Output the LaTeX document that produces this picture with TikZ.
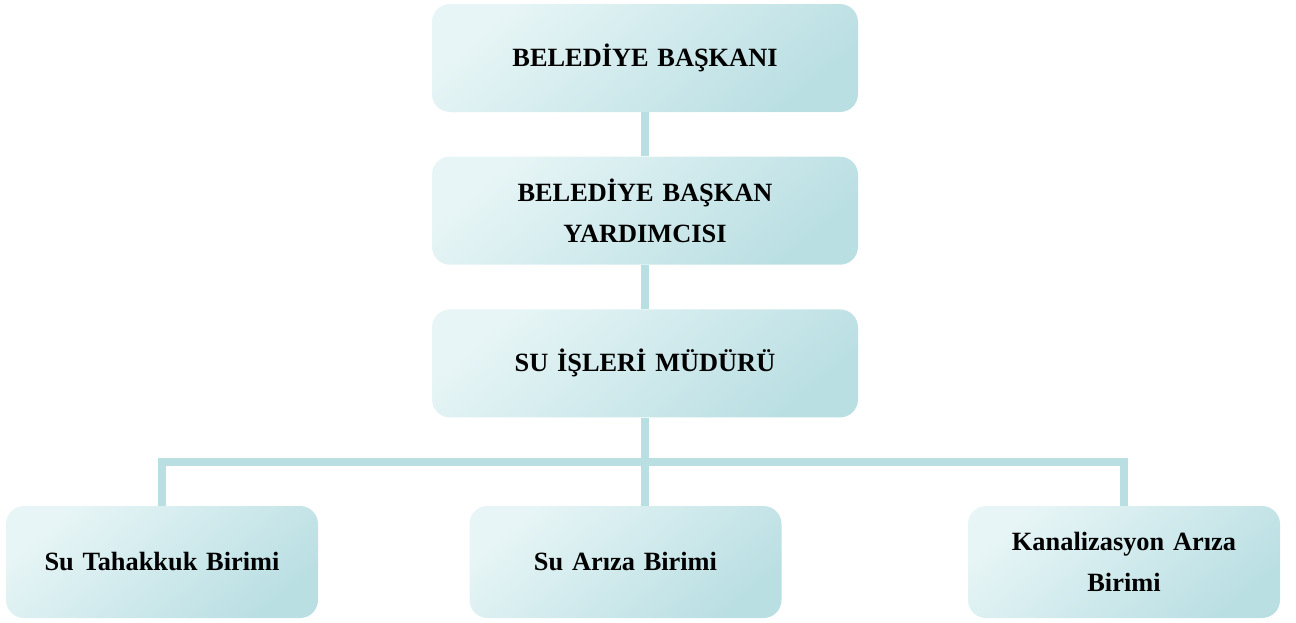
\documentclass[tikz,border=0pt]{standalone}
\usepackage{fontspec}
\setmainfont{Liberation Serif}
\usepackage{tikz}
\usepackage{xcolor}
\usetikzlibrary{shapes,arrows,positioning,calc}

\definecolor{boxlight}{RGB}{231,245,246}
\definecolor{boxdark}{RGB}{186,223,227}
\definecolor{linkcol}{RGB}{186,223,227}

\begin{document}
\begin{tikzpicture}[
        node distance=0.88cm,
        block/.style={rectangle, rounded corners=0.36cm, top color=boxlight, bottom color=boxdark, shading angle=40, draw=none, text width=7.6cm, align=center, minimum width=8.52cm, minimum height=2.16cm, font=\fontsize{15}{23}\selectfont\bfseries},
        unit/.style={block, text width=5.8cm, minimum width=6.24cm, minimum height=2.24cm},
        link/.style={draw=linkcol, line width=0.16cm}
    ]
        \useasboundingbox (0,0) rectangle (25.92,-12.44);
        % Nodes
        \node[block] (baskan) at (12.9,-1.16) {BELEDİYE BAŞKANI};
        \node[block, below=of baskan] (yardimci) {BELEDİYE BAŞKAN\\YARDIMCISI};
        \node[block, below=of yardimci] (mudur) {SU İŞLERİ MÜDÜRÜ};
        \node[unit] (tahakkuk) at (3.24,-11.24) {Su Tahakkuk Birimi};
        \node[unit] (ariza) at (12.51,-11.24) {Su Arıza Birimi};
        \node[unit] (kanal) at (22.48,-11.24) {Kanalizasyon Arıza\\Birimi};
        \coordinate (bus) at (12.88,-9.24);

        % Lines
        \draw[link] (baskan) -- (yardimci);
        \draw[link] (yardimci) -- (mudur);
        \draw[link] (mudur.south) -- (mudur.south |- ariza.north);
        \draw[link] (tahakkuk.north) |- (bus) -| (kanal.north);

    \end{tikzpicture}
\end{document}
